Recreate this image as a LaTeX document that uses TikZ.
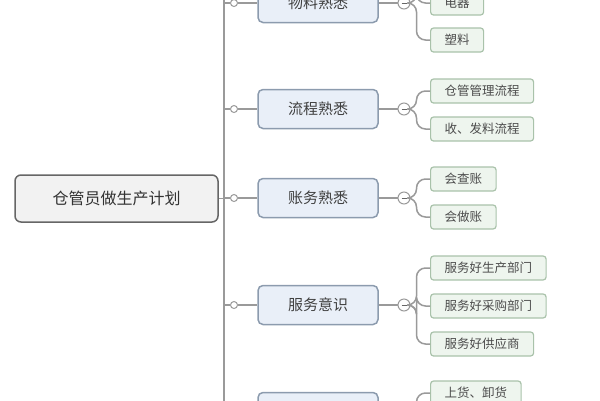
\documentclass[tikz,border=0pt]{standalone}
\usepackage{fontspec}
\setmainfont{Noto Sans CJK SC}
\usetikzlibrary{positioning}
\definecolor{linegray}{HTML}{9A9A9A}
\definecolor{rootfill}{HTML}{F2F2F2}
\definecolor{branchfill}{HTML}{E9EFF8}
\definecolor{branchline}{HTML}{8C9BAE}
\definecolor{leaffill}{HTML}{EEF5EE}
\definecolor{leafline}{HTML}{A9C2AA}
\tikzset{
  rootbox/.style = {draw=black!60, fill=rootfill, rounded corners=6pt, line width=1.5pt,
    minimum width=203pt, minimum height=47pt, font=\fontsize{16}{19}\selectfont, text=black!80},
  branchbox/.style = {draw=branchline, fill=branchfill, rounded corners=5pt, line width=1.5pt,
    minimum width=120pt, minimum height=39pt, font=\fontsize{15}{18}\selectfont, text=black!75},
  leafbox/.style = {draw=leafline, fill=leaffill, rounded corners=3pt, line width=1.2pt,
    anchor=west, minimum height=24pt, inner xsep=14pt, font=\fontsize{12.5}{15}\selectfont, text=black!70},
  knob/.style = {circle, draw=linegray, fill=white, inner sep=0pt, minimum size=7pt, line width=1pt},
  fold/.style = {circle, draw=linegray, fill=white, inner sep=0pt, minimum size=12pt, line width=1pt},
  link/.style = {draw=linegray, line width=1.5pt, rounded corners=9pt}
}
\begin{document}
\begin{tikzpicture}[x=1pt, y=-1pt]
  \useasboundingbox (0,0) rectangle (600,400);
  % root and trunk
  \node[rootbox] (root) at (116.5,198.5) {仓管员做生产计划};
  \coordinate (top) at (224,-10);
  \coordinate (bottom) at (224,410);
  \draw[link] (top) -- (bottom);
  \draw[link] (root.east) -- (224,198.5);
  % branches
  \foreach \name/\y/\txt in {wl/3/物料熟悉, lc/109/流程熟悉, zw/198/账务熟悉, fw/305/服务意识, sh/412/} {
    \node[branchbox] (\name) at (318,\y) {\txt};
    \node[knob] (\name k) at (234,\y) {};
    \node[fold] (\name f) at (404,\y) {};
    \draw[link] (224,\y) -- (\name k) -- (\name.west);
    \draw[link] (\name.east) -- (\name f);
    \draw[black!60, line width=1pt] ([xshift=-2.5pt]\name f.center) -- ([xshift=2.5pt]\name f.center);
  }
  % leaves
  \foreach \up/\leaf/\y/\txt in {wl/a/3/电器, wl/b/40/塑料,
      lc/a/91/仓管管理流程, lc/b/129/收、发料流程,
      zw/a/179/会查账, zw/b/217/会做账,
      fw/a/268/服务好生产部门, fw/b/306/服务好采购部门, fw/c/344/服务好供应商,
      sh/a/393/上货、卸货} {
    \node[leafbox] (\up\leaf) at (430,\y) {\txt};
    \draw[link] (\up f.east) -- ++(6,0) |- (\up\leaf.west);
  }
\end{tikzpicture}
\end{document}
